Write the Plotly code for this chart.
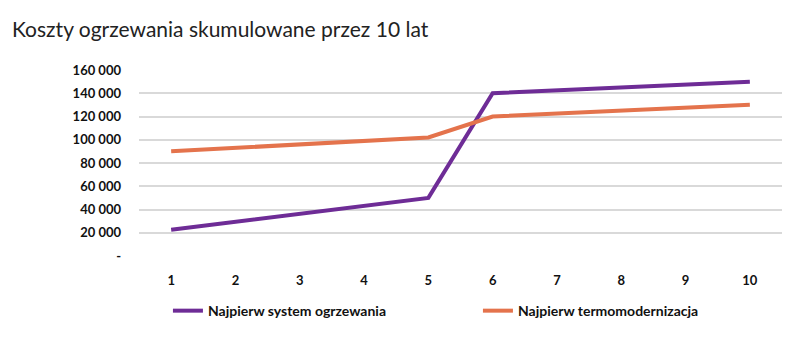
import plotly.graph_objects as go

years = ["1", "2", "3", "4", "5", "6", "7", "8", "9", "10"]
system_first = [22500, 29500, 36500, 43000, 50000, 140000, 142500, 145000, 147500, 150000]
thermo_first = [90000, 93000, 96000, 99000, 102000, 120000, 122500, 125000, 127500, 130000]
series_names = ["Najpierw system ogrzewania", "Najpierw termomodernizacja"]
y_tickvals = [0, 20000, 40000, 60000, 80000, 100000, 120000, 140000, 160000]
y_ticktext = ["-", "20 000", "40 000", "60 000", "80 000", "100 000", "120 000", "140 000", "160 000"]
title_text = "Koszty ogrzewania skumulowane przez 10 lat"

FONT = "Lato"

fig = go.Figure()
fig.add_trace(go.Scatter(x=years, y=system_first, mode="lines", name=series_names[0],
                         line=dict(color="#6E2C96", width=4)))
fig.add_trace(go.Scatter(x=years, y=thermo_first, mode="lines", name=series_names[1],
                         line=dict(color="#E4734C", width=4)))

fig.update_layout(
    width=800, height=339,
    margin=dict(l=139, r=18, t=70, b=79),
    paper_bgcolor="white", plot_bgcolor="white",
    title=dict(text=title_text, x=0, xref="container", xanchor="left",
               y=1 - 30 / 339, yref="container", yanchor="middle", pad=dict(l=12),
               font=dict(family=FONT, size=21, color="#222222")),
    showlegend=True,
    legend=dict(orientation="h", x=0.045, xanchor="left", y=-0.21, yanchor="top",
                entrywidth=265, entrywidthmode="pixels",
                font=dict(family=FONT, size=14, color="#111111", weight="bold"),
                bgcolor="rgba(0,0,0,0)"),
    font=dict(family=FONT),
)
fig.update_xaxes(type="category", range=[-0.5, 9.5], showgrid=False, zeroline=False,
                 showline=False, ticks="", ticklabelstandoff=15,
                 tickfont=dict(family=FONT, size=13, color="#111111", weight="bold"))
fig.update_yaxes(range=[0, 160000], tickvals=y_tickvals, ticktext=y_ticktext,
                 showgrid=True, gridcolor="#D9D9D9", gridwidth=1.5, zeroline=False,
                 showline=False, ticks="", ticklabelstandoff=17,
                 tickfont=dict(family=FONT, size=13, color="#111111", weight="bold"))

fig.write_html("out.html")
